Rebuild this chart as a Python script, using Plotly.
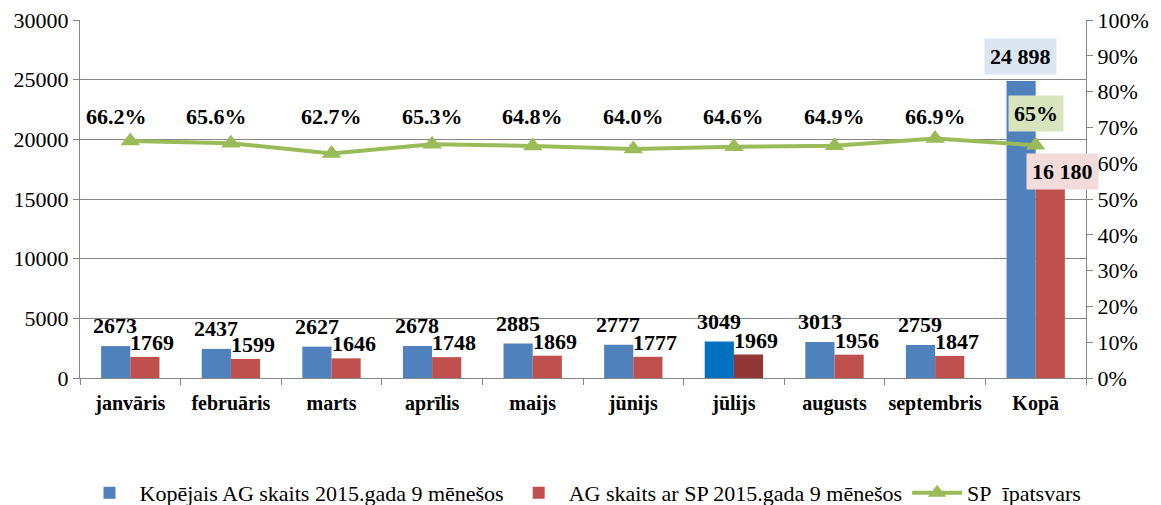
import plotly.graph_objects as go

categories = ["janvāris", "februāris", "marts", "aprīlis", "maijs", "jūnijs",
              "jūlijs", "augusts", "septembris", "Kopā"]
total_ag = [2673, 2437, 2627, 2678, 2885, 2777, 3049, 3013, 2759, 24898]
ag_with_sp = [1769, 1599, 1646, 1748, 1869, 1777, 1969, 1956, 1847, 16180]
sp_share = [66.2, 65.6, 62.7, 65.3, 64.8, 64.0, 64.6, 64.9, 66.9, 65.0]
share_labels = ["66.2%", "65.6%", "62.7%", "65.3%", "64.8%", "64.0%",
                "64.6%", "64.9%", "66.9%", "65%"]
total_labels = ["2673", "2437", "2627", "2678", "2885", "2777", "3049", "3013", "2759", "24 898"]
sp_labels = ["1769", "1599", "1646", "1748", "1869", "1777", "1969", "1956", "1847", "16 180"]

name_total = "Kopējais AG skaits 2015.gada 9 mēnešos"
name_sp = "AG skaits ar SP 2015.gada 9 mēnešos"
name_share = "SP\u00a0 īpatsvars"

BLUE, RED, GREEN = "#4F81BD", "#C0504D", "#9BBB59"
blue_colors = [BLUE] * len(categories)
red_colors = [RED] * len(categories)
blue_colors[categories.index("jūlijs")] = "#0070C0"
red_colors[categories.index("jūlijs")] = "#943634"

FONT = "Liberation Serif"
GRID = "#868686"

fig = go.Figure()
fig.add_trace(go.Bar(x=categories, y=total_ag, name=name_total,
                     marker=dict(color=blue_colors, line=dict(width=0))))
fig.add_trace(go.Bar(x=categories, y=ag_with_sp, name=name_sp,
                     marker=dict(color=red_colors, line=dict(width=0))))
fig.add_trace(go.Scatter(x=categories, y=sp_share, name=name_share, yaxis="y2",
                         mode="lines+markers",
                         line=dict(color=GREEN, width=4),
                         marker=dict(symbol="triangle-up", size=17, color=GREEN)))

lab_font = dict(family=FONT, size=22, color="black")
ann = []
n = len(categories)
for i, c in enumerate(categories):
    last = i == n - 1
    if last:
        ann.append(dict(x=c, y=total_ag[i], xshift=-15, yshift=6, yanchor="bottom",
                        text="<b>%s</b>" % total_labels[i], showarrow=False,
                        bgcolor="#DCE6F2", borderpad=5, font=lab_font))
        ann.append(dict(x=c, y=ag_with_sp[i], xshift=27, yshift=13, yanchor="middle",
                        text="<b>%s</b>" % sp_labels[i], showarrow=False,
                        bgcolor="#F2DCDB", borderpad=5, font=lab_font))
        ann.append(dict(x=c, y=sp_share[i], yref="y2", xshift=0, yshift=32, yanchor="middle",
                        text="<b>%s</b>" % share_labels[i], showarrow=False,
                        bgcolor="#D7E4BD", borderpad=5, font=lab_font))
    else:
        ann.append(dict(x=c, y=total_ag[i], xshift=-15, yshift=6, yanchor="bottom",
                        text="<b>%s</b>" % total_labels[i], showarrow=False, font=lab_font))
        ann.append(dict(x=c, y=ag_with_sp[i], xshift=22, yshift=0, yanchor="bottom",
                        text="<b>%s</b>" % sp_labels[i], showarrow=False, font=lab_font))
        ann.append(dict(x=c, y=73, yref="y2", xshift=-14 if i < 2 else 0,
                        yanchor="middle",
                        text="<b>%s</b>" % share_labels[i], showarrow=False, font=lab_font))

# the page body adds an 8px offset, so the figure is sized to fit the window
fig.update_layout(
    width=1153, height=497,
    margin=dict(l=72, r=75, t=12, b=127, autoexpand=False),
    paper_bgcolor="white", plot_bgcolor="white",
    font=dict(family=FONT, size=20, color="black"),
    barmode="group", bargap=0.42, bargroupgap=0,
    showlegend=True,
    legend=dict(orientation="h", x=0.5, xanchor="center", y=-0.321, yanchor="middle",
                font=dict(family=FONT, size=22, color="black"),
                itemwidth=50, tracegroupgap=0),
    xaxis=dict(type="category", range=[-0.5, len(categories) - 0.5],
               showline=True, linecolor=GRID, linewidth=1,
               ticks="outside", tickson="boundaries", ticklen=6, tickcolor=GRID,
               tickangle=0, automargin=False, ticklabelstandoff=7,
               tickfont=dict(family=FONT, size=20, color="black"),
               tickprefix="<b>", ticksuffix="</b>", showgrid=False),
    yaxis=dict(range=[0, 30000], dtick=5000, showgrid=True, gridcolor=GRID, gridwidth=1,
               showline=True, linecolor=GRID, ticks="outside", ticklen=6, tickcolor=GRID,
               tickfont=dict(family=FONT, size=22, color="black"), zeroline=False,
               tickformat="d", automargin=False, ticklabeloverflow="allow"),
    yaxis2=dict(range=[0, 100], dtick=10, overlaying="y", side="right",
                showgrid=False, showline=True, linecolor=GRID, ticks="outside",
                ticklen=6, tickcolor=GRID, ticksuffix="%", zeroline=False, automargin=False,
                ticklabeloverflow="allow",
                tickfont=dict(family=FONT, size=22, color="black")),
    annotations=ann,
)

fig.write_html("out.html")
